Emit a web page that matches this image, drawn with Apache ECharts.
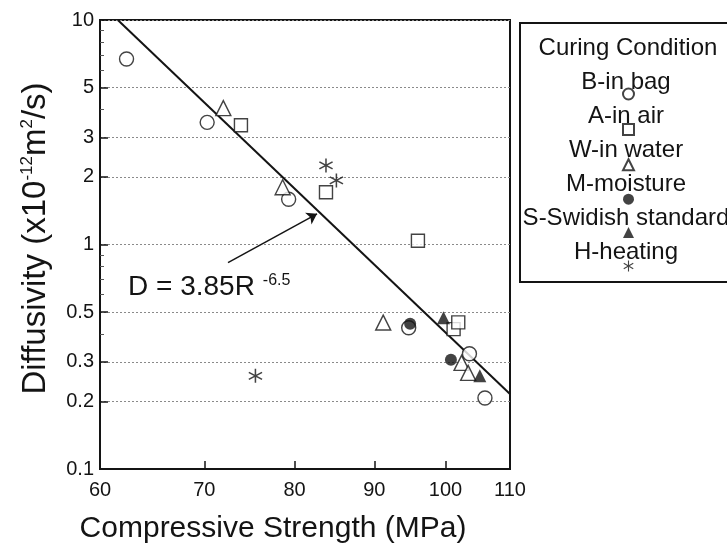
<!DOCTYPE html>
<html><head><meta charset="utf-8">
<script src="https://cdn.jsdelivr.net/npm/echarts@6/dist/echarts.min.js"></script>
<style>html,body{margin:0;padding:0;background:#fff}#c{width:727px;height:552px}</style>
</head><body><div id="c"></div>
<script>
// ---- data ----
const legendTitle = 'Curing Condition';
const seriesNames = ['B-in bag', 'A-in air', 'W-in water', 'M-moisture', 'S-Swidish standard', 'H-heating'];
const bagData = [[62.4, 6.7], [70.3, 3.5], [79.3, 1.59], [94.7, 0.426], [103.6, 0.326], [106.0, 0.207]];
const airData = [[73.9, 3.4], [83.8, 1.71], [96.0, 1.04], [101.2, 0.42], [101.9, 0.45]];
const waterData = [[72.0, 4.05], [78.6, 1.8], [91.2, 0.449], [102.4, 0.297], [103.4, 0.268]];
const moistureData = [[94.9, 0.444], [100.8, 0.307]];
const swedishData = [[99.7, 0.472], [105.2, 0.26]];
const heatingData = [[83.8, 2.25], [85.1, 1.93], [75.5, 0.26]];
const fitLine = [[61.6, 10], [110, 0.216]];
const arrowFrom = [72.5, 0.83];
const arrowTo = [82.7, 1.37];
const xTickLabels = [60, 70, 80, 90, 100, 110];
const xInnerTicks = [70, 80, 90, 100];
const yTickLabels = [0.1, 0.2, 0.3, 0.5, 1, 2, 3, 5, 10];
const yMinorTicks = [0.4, 0.6, 0.7, 0.8, 0.9, 4, 6, 7, 8, 9];
const xTitle = 'Compressive Strength (MPa)';
const equationMain = 'D = 3.85R';
const equationExp = '-6.5';

// ---- styling ----
const INK = '#141414';
const FONT = 'Liberation Sans, Arial, Helvetica, sans-serif';
const asteriskPath = 'path://M9.1 1L10.9 1L10.9 19L9.1 19Z M17.34 4.72L18.24 6.28L2.66 15.28L1.76 13.72Z M18.24 13.72L17.34 15.28L1.76 6.28L2.66 4.72Z';
const openStyle = { color: '#fff', borderColor: INK, borderWidth: 1.4 };
const fillStyle = { color: INK, borderColor: INK, borderWidth: 0 };

const chart = echarts.init(document.getElementById('c'), null, { renderer: 'canvas' });

function scatter(name, data, symbol, size, style) {
  return { name, type: 'scatter', data, symbol, symbolSize: size, itemStyle: style,
           xAxisIndex: 0, yAxisIndex: 0, z: 3, silent: true };
}

const option = {
  backgroundColor: '#fff',
  animation: false,
  textStyle: { fontFamily: FONT },
  grid: { left: 100, right: 217, top: 20, bottom: 83, show: true, borderColor: INK, borderWidth: 2, backgroundColor: 'transparent' },
  xAxis: [{
    type: 'log', logBase: 10, min: 60, max: 110,
    name: xTitle, nameLocation: 'middle', nameGap: 45,
    nameTextStyle: { fontSize: 30, color: INK, fontFamily: FONT, padding: [0, 64, 0, 0] },
    axisLine: { show: true, lineStyle: { color: INK, width: 2 } },
    axisTick: { show: true, inside: true, length: 8, lineStyle: { color: INK, width: 1.5 }, customValues: xInnerTicks },
    axisLabel: { show: true, fontSize: 20, color: INK, margin: 11, fontFamily: FONT, customValues: xTickLabels, showMinLabel: true, showMaxLabel: true },
    splitLine: { show: false }, minorTick: { show: false }, minorSplitLine: { show: false }
  }],
  yAxis: [{
    type: 'log', logBase: 10, min: 0.1, max: 10,
    name: '{t|Diffusivity (x10}{s|-12}{t|m}{s|2}{t|/s)}', nameLocation: 'middle', nameGap: 48, nameRotate: 90,
    nameTextStyle: { color: INK, fontFamily: FONT, padding: [0, 0, 0, 12], rich: {
      t: { fontSize: 33, color: INK, fontFamily: FONT },
      s: { fontSize: 17, color: INK, fontFamily: FONT, verticalAlign: 'top' } } },
    axisLine: { show: true, lineStyle: { color: INK, width: 2 } },
    axisTick: { show: true, inside: true, length: 8, lineStyle: { color: INK, width: 1.5 }, customValues: yTickLabels },
    axisLabel: { show: true, fontSize: 20, color: INK, margin: 6, fontFamily: FONT, customValues: yTickLabels, showMinLabel: true, showMaxLabel: true },
    splitLine: { show: true, lineStyle: { color: '#8a8a8a', width: 1, type: [2, 2] } },
    minorTick: { show: false }, minorSplitLine: { show: false }
  }, {
    type: 'log', logBase: 10, min: 0.1, max: 10, position: 'left', offset: 0,
    axisLine: { show: false },
    axisTick: { show: true, inside: true, length: 4, lineStyle: { color: '#555', width: 1 }, customValues: yMinorTicks },
    axisLabel: { show: false }, splitLine: { show: false }
  }],
  legend: {
    orient: 'vertical', left: 622, top: 87.5, padding: 0, itemWidth: 11, itemHeight: 11, itemGap: 22.4,
    data: seriesNames, selectedMode: false, formatter: () => '',
    textStyle: { fontSize: 1, lineHeight: 11 }
  },
  graphic: [
    { type: 'rect', shape: { x: 520, y: 23, width: 240, height: 259 }, style: { fill: 'none', stroke: INK, lineWidth: 2 }, silent: true, z: 1 },
    { type: 'text', x: 628, y: 48, style: { text: legendTitle, font: '24px ' + FONT, fill: INK, align: 'center', verticalAlign: 'middle' }, silent: true },
    ...seriesNames.map((n, i) => ({
      type: 'text', x: 626, y: 82 + i * 34, style: { text: n, font: '24px ' + FONT, fill: INK, align: 'center', verticalAlign: 'middle' }, silent: true, z: 5
    })),
    { type: 'text', x: 128, y: 287, style: {
        text: '{m|' + equationMain + '}{e|' + equationExp + '}', verticalAlign: 'middle', align: 'left',
        rich: { m: { font: '28px ' + FONT, fill: INK }, e: { font: '16px ' + FONT, fill: INK, verticalAlign: 'top', padding: [0, 0, 0, 8] } } }, silent: true }
  ],
  series: [
    scatter(seriesNames[0], bagData, 'circle', 14, openStyle),
    scatter(seriesNames[1], airData, 'rect', 13, openStyle),
    scatter(seriesNames[2], waterData, 'triangle', 15, openStyle),
    scatter(seriesNames[3], moistureData, 'circle', 12, fillStyle),
    scatter(seriesNames[4], swedishData, 'triangle', 13, fillStyle),
    scatter(seriesNames[5], heatingData, asteriskPath, 14, fillStyle),
    {
      name: 'fit', type: 'line', data: fitLine, symbol: 'none', silent: true, z: 2,
      lineStyle: { color: INK, width: 2 },
      markLine: {
        silent: true, symbol: ['none', 'arrow'], symbolSize: 10,
        lineStyle: { color: INK, width: 1.5, type: 'solid' }, label: { show: false },
        data: [[{ coord: arrowFrom }, { coord: arrowTo }]]
      }
    }
  ]
};
chart.setOption(option);
</script></body></html>
